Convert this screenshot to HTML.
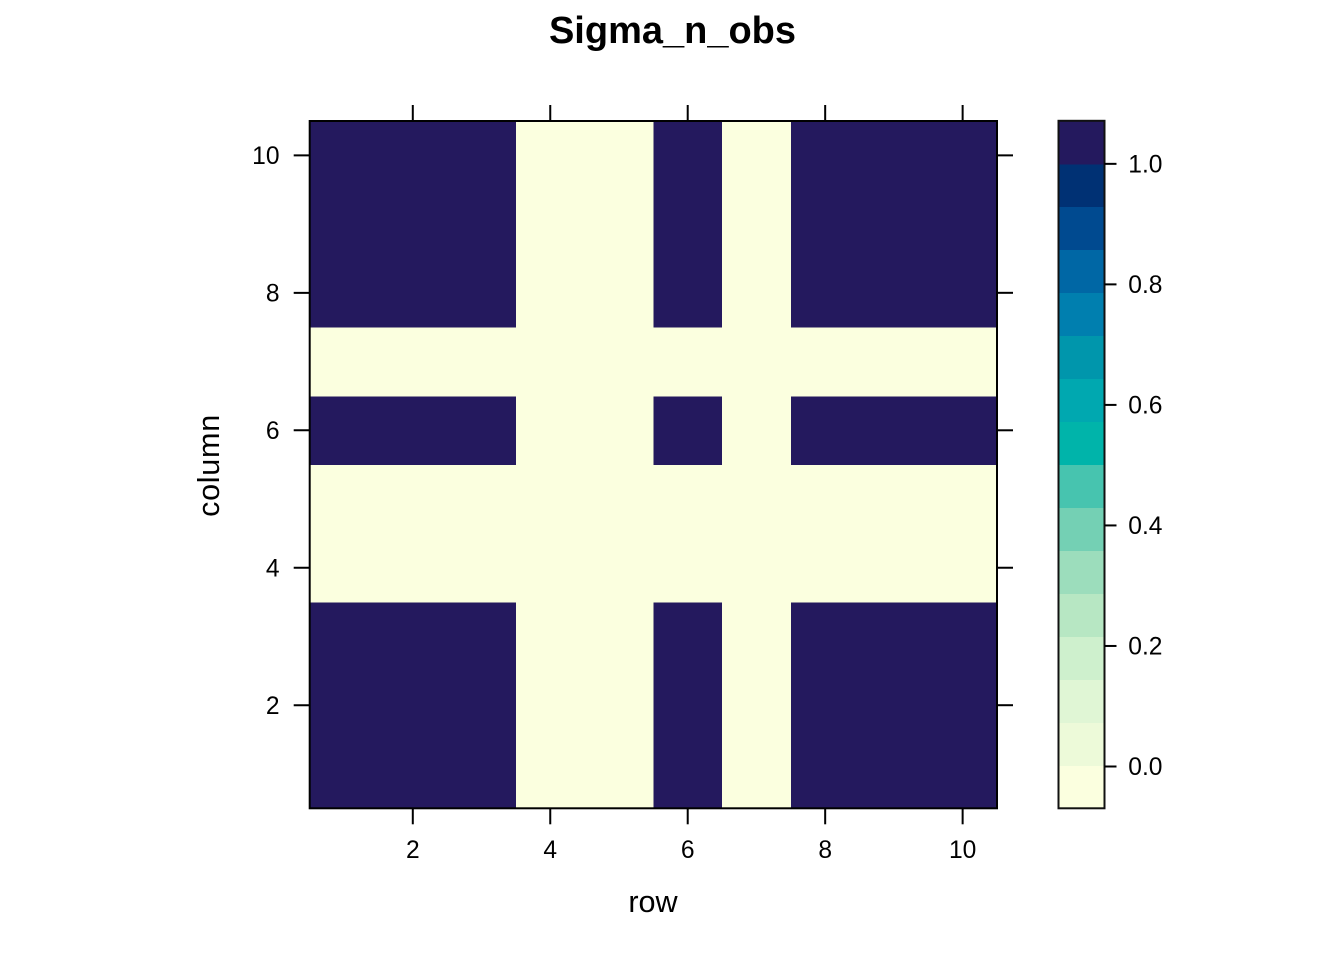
<!DOCTYPE html>
<html lang="en">
<head>
<meta charset="utf-8">
<title>Sigma_n_obs</title>
<style>
html,body{margin:0;padding:0;background:#fff;width:1344px;height:960px;overflow:hidden}
svg{display:block}
text{font-family:"Liberation Sans",Arial,sans-serif;fill:#000}
</style>
</head>
<body>
<svg id="chart" xmlns="http://www.w3.org/2000/svg" width="1344" height="960" viewBox="0 0 1344 960"></svg>
<script>
// Data
const rowLabels = [1, 2, 3, 4, 5, 6, 7, 8, 9, 10];
const columnLabels = [1, 2, 3, 4, 5, 6, 7, 8, 9, 10];
// values[columnIndex][rowIndex], columnIndex 0 is column 1 at the bottom
const values = [
  [1, 1, 1, 0, 0, 1, 0, 1, 1, 1],
  [1, 1, 1, 0, 0, 1, 0, 1, 1, 1],
  [1, 1, 1, 0, 0, 1, 0, 1, 1, 1],
  [0, 0, 0, 0, 0, 0, 0, 0, 0, 0],
  [0, 0, 0, 0, 0, 0, 0, 0, 0, 0],
  [1, 1, 1, 0, 0, 1, 0, 1, 1, 1],
  [0, 0, 0, 0, 0, 0, 0, 0, 0, 0],
  [1, 1, 1, 0, 0, 1, 0, 1, 1, 1],
  [1, 1, 1, 0, 0, 1, 0, 1, 1, 1],
  [1, 1, 1, 0, 0, 1, 0, 1, 1, 1]
];
const xTicks = [2, 4, 6, 8, 10];
const yTicks = [2, 4, 6, 8, 10];
const colorTicks = [0, 0.2, 0.4, 0.6, 0.8, 1];
const colorDomain = [-0.0697, 1.0711];
const palette = ['#FBFFDF','#EDFAD9','#E0F6D5','#CEF0CD','#B7E7C3','#9CDDBC','#74D0B4','#47C4AF',
                 '#00B4AA','#00A8B0','#0096AC','#007FAF','#0067A5','#004A90','#003174','#24195E'];

// Layout
const plot = {left: 309.7, right: 997, top: 121, bottom: 808.3};
const bar = {left: 1058.5, right: 1104.5, top: 120.8, bottom: 808.3};
const NS = 'http://www.w3.org/2000/svg';
const svg = document.getElementById('chart');

// Axis functions: data value to pixel, with the axes spanning 0.5 to n + 0.5
const xScale = v => plot.left + (v - 0.5) * (plot.right - plot.left) / rowLabels.length;
const yScale = v => plot.bottom - (v - 0.5) * (plot.bottom - plot.top) / columnLabels.length;
const colorY = v => bar.bottom - (v - colorDomain[0]) * (bar.bottom - bar.top) / (colorDomain[1] - colorDomain[0]);
const colorOf = v => {
  const t = (v - colorDomain[0]) / (colorDomain[1] - colorDomain[0]);
  return palette[Math.min(palette.length - 1, Math.max(0, Math.floor(t * palette.length)))];
};

function make(tag, attrs, parent) {
  const el = document.createElementNS(NS, tag);
  for (const k in attrs) el.setAttribute(k, attrs[k]);
  (parent || svg).appendChild(el);
  return el;
}

// Heatmap cells
const cells = make('g', {'shape-rendering': 'crispEdges'});


values.forEach((rowVals, j) => {
  rowVals.forEach((val, i) => {
    const r = rowLabels[i], c = columnLabels[j];
    const x0 = xScale(r - 0.5), x1 = xScale(r + 0.5), y0 = yScale(c + 0.5), y1 = yScale(c - 0.5);
    const cell = make('rect', {x: x0, y: y0, width: x1 - x0 + 0.5, height: y1 - y0 + 0.5, fill: colorOf(val)}, cells);
    
    
  });
});

// Plot frame
const frame = make('rect', {x: plot.left, y: plot.top, width: plot.right - plot.left, height: plot.bottom - plot.top, fill: 'none', stroke: '#000', 'stroke-width': 2});



// X axis
xTicks.forEach(v => {
  const x = xScale(v);
  const tb = make('line', {x1: x, x2: x, y1: plot.bottom, y2: plot.bottom + 16, stroke: '#000', 'stroke-width': 2});
  
  
  const tt = make('line', {x1: x, x2: x, y1: plot.top, y2: plot.top - 16, stroke: '#000', 'stroke-width': 2});
  
  
  const lab = make('text', {x: x, y: 858, 'font-size': 24.6, 'text-anchor': 'middle'});
  lab.textContent = v;
  
  
});

// Y axis
yTicks.forEach(v => {
  const y = yScale(v);
  const tl = make('line', {x1: plot.left, x2: plot.left - 16, y1: y, y2: y, stroke: '#000', 'stroke-width': 2});
  
  
  const tr = make('line', {x1: plot.right, x2: plot.right + 16, y1: y, y2: y, stroke: '#000', 'stroke-width': 2});
  
  
  const lab = make('text', {x: 279.5, y: y + 8.8, 'font-size': 24.6, 'text-anchor': 'end'});
  lab.textContent = v;
  
  
});

// Colour bar
const bands = make('g', {'shape-rendering': 'crispEdges'});


palette.forEach((col, k) => {
  const step = (colorDomain[1] - colorDomain[0]) / palette.length;
  const y0 = colorY(colorDomain[0] + (k + 1) * step), y1 = colorY(colorDomain[0] + k * step);
  const band = make('rect', {x: bar.left, y: y0, width: bar.right - bar.left, height: y1 - y0 + 0.5, fill: col}, bands);
  
  
});
const barFrame = make('rect', {x: bar.left, y: bar.top, width: bar.right - bar.left, height: bar.bottom - bar.top, fill: 'none', stroke: '#111', 'stroke-width': 2});


colorTicks.forEach(v => {
  const y = colorY(v);
  const t = make('line', {x1: bar.right, x2: bar.right + 12, y1: y + 0.2, y2: y + 0.2, stroke: '#000', 'stroke-width': 2});
  
  
  const lab = make('text', {x: 1128.3, y: y + 8.8, 'font-size': 24.6});
  lab.textContent = v.toFixed(1);
  
  
});

// Titles
const title = make('text', {x: 672.5, y: 43, 'font-size': 38, 'font-weight': 'bold', 'text-anchor': 'middle'});
title.textContent = 'Sigma_n_obs';


const xTitle = make('text', {x: 653, y: 912, 'font-size': 30.6, 'text-anchor': 'middle'});
xTitle.textContent = 'row';


const yTitle = make('text', {x: 0, y: 0, 'font-size': 30.6, 'letter-spacing': 0.7, 'text-anchor': 'middle', transform: 'translate(219 465.5) rotate(-90)'});
yTitle.textContent = 'column';


</script>
</body>
</html>
